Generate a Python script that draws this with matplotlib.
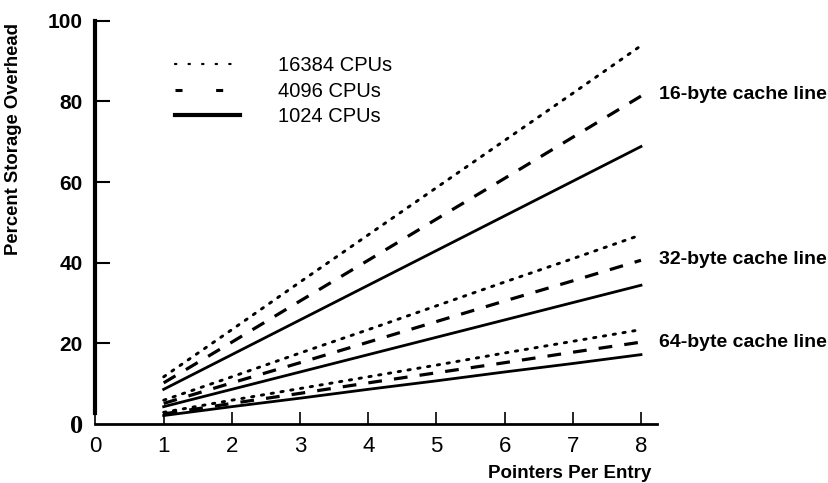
import matplotlib
matplotlib.use("Agg")
import matplotlib.pyplot as plt
from matplotlib.lines import Line2D
from matplotlib import font_manager as fm

# Pointers per directory entry
pointers = [1, 2, 3, 4, 5, 6, 7, 8]

# Percent storage overhead, 16-byte cache line
line16_cpu16384 = [11.7, 23.4, 35.2, 46.9, 58.6, 70.3, 82.0, 93.8]
line16_cpu4096 = [10.2, 20.3, 30.5, 40.6, 50.8, 60.9, 71.1, 81.3]
line16_cpu1024 = [8.6, 17.2, 25.8, 34.4, 43.0, 51.6, 60.2, 68.8]

# Percent storage overhead, 32-byte cache line
line32_cpu16384 = [5.9, 11.7, 17.6, 23.4, 29.3, 35.2, 41.0, 46.9]
line32_cpu4096 = [5.1, 10.2, 15.2, 20.3, 25.4, 30.5, 35.5, 40.6]
line32_cpu1024 = [4.3, 8.6, 12.9, 17.2, 21.5, 25.8, 30.1, 34.4]

# Percent storage overhead, 64-byte cache line
line64_cpu16384 = [2.9, 5.9, 8.8, 11.7, 14.6, 17.6, 20.5, 23.4]
line64_cpu4096 = [2.5, 5.1, 7.6, 10.2, 12.7, 15.2, 17.8, 20.3]
line64_cpu1024 = [2.1, 4.3, 6.4, 8.6, 10.7, 12.9, 15.0, 17.2]

cpu_labels = ["16384 CPUs", "4096 CPUs", "1024 CPUs"]
group_labels = [("16-byte cache line", 81.6),
                ("32-byte cache line", 40.7),
                ("64-byte cache line", 20.1)]
xtick_values = [0, 1, 2, 3, 4, 5, 6, 7, 8]
ytick_values = [0, 20, 40, 60, 80, 100]

names = {f.name for f in fm.fontManager.ttflist}
SANS = "Liberation Sans" if "Liberation Sans" in names else "DejaVu Sans"
NARROW = "Liberation Sans Narrow" if "Liberation Sans Narrow" in names else SANS
SERIF = "Liberation Serif" if "Liberation Serif" in names else "DejaVu Serif"

plt.rcParams["font.family"] = [SANS, "DejaVu Sans"]

fig = plt.figure(figsize=(8.29, 4.83), dpi=100)
ax = fig.add_axes([95.5 / 829, 59 / 483, 561.5 / 829, 403.3 / 483])

dotted = dict(color="black", lw=2.1, linestyle=(0, (0.8, 2.6)),
              dash_capstyle="round", solid_capstyle="round")
dashed = dict(color="black", lw=2.3, linestyle=(0, (4.3, 3.8)),
              dash_capstyle="butt")
solid = dict(color="black", lw=2.0, linestyle="-")

for s16384, s4096, s1024 in [
    (line16_cpu16384, line16_cpu4096, line16_cpu1024),
    (line32_cpu16384, line32_cpu4096, line32_cpu1024),
    (line64_cpu16384, line64_cpu4096, line64_cpu1024),
]:
    ax.plot(pointers, s16384, **dotted)
    ax.plot(pointers, s4096, **dashed)
    ax.plot(pointers, s1024, **solid)

ax.set_xlim(0, 8.235)
ax.set_ylim(0, 100)

for side in ("top", "right"):
    ax.spines[side].set_visible(False)
ax.spines["left"].set_linewidth(3.0)
ax.spines["left"].set_bounds(2.8, 100)
ax.spines["bottom"].set_linewidth(2.0)

ax.set_xticks(xtick_values)
ax.set_xticklabels([str(v) for v in xtick_values], family=[NARROW, SANS],
                   fontsize=16)
ax.tick_params(axis="x", direction="in", length=8.5, width=1.2, pad=9)

ax.set_yticks(ytick_values)
ax.set_yticklabels([str(v) for v in ytick_values], fontweight="bold",
                   fontsize=15)
ax.tick_params(axis="y", direction="in", length=10.5, width=1.5, pad=9)
ytl = ax.get_yticklabels()
ytl[0].set_fontfamily(SERIF)
ytl[0].set_fontsize(19)
ax.yaxis.get_major_ticks()[0].tick1line.set_visible(False)

ax.set_ylabel("Percent Storage Overhead", fontweight="bold", fontsize=13.3)
ax.yaxis.set_label_coords(-0.131, 0.706)
ax.set_xlabel("Pointers Per Entry", fontweight="bold", fontsize=13.5,
              verticalalignment="center")
ax.xaxis.set_label_coords(0.845, -0.1215)

for text, yv in group_labels:
    ax.text(8.27, yv, text, ha="left", va="center", fontsize=14,
            fontweight="bold", clip_on=False)

handles = [
    Line2D([], [], color="black", lw=1.6, linestyle=(0, (0.6, 5.5)),
           dash_capstyle="round"),
    Line2D([], [], color="black", lw=2.2, linestyle=(0, (2.3, 11.0)),
           dash_capstyle="butt"),
    Line2D([], [], color="black", lw=3.0, linestyle="-"),
]
ax.legend(handles, cpu_labels, loc="upper left",
          bbox_to_anchor=(0.1416, 0.912), frameon=False, fontsize=14.5,
          handlelength=3.25, handletextpad=1.85, labelspacing=0.33,
          borderpad=0, borderaxespad=0)

fig.savefig("out.png", dpi=100)
